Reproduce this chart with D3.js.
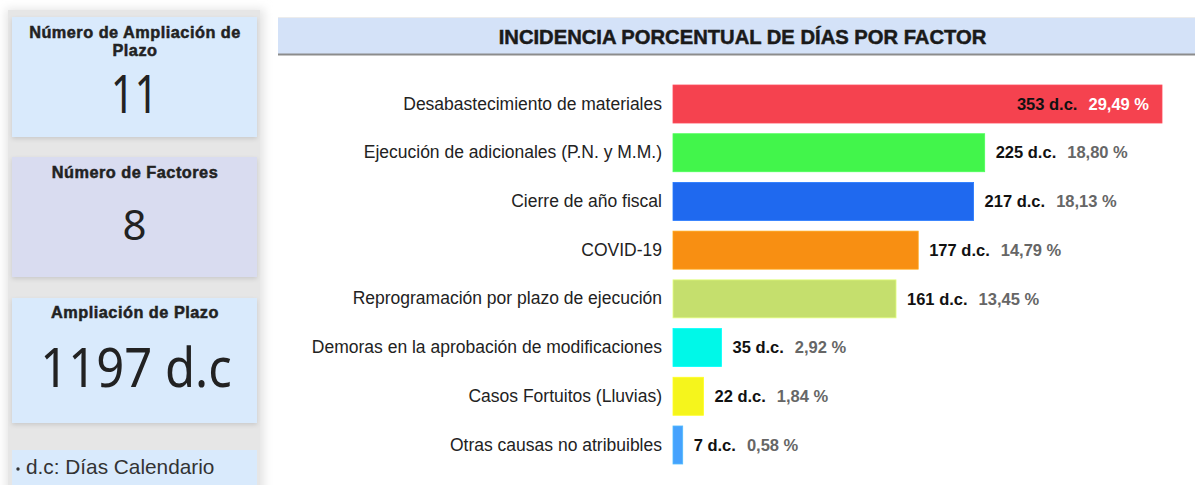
<!DOCTYPE html>
<html>
<head>
<meta charset="utf-8">
<script src="https://cdn.jsdelivr.net/npm/d3@7"></script>
<style>
  html, body { margin: 0; padding: 0; background: #ffffff; }
  svg { display: block; }
</style>
</head>
<body>
<svg id="chart" width="1195" height="485"></svg>
<script>
// Factors causing the time extensions, in calendar days (d.c.)
const categories = [
  "Desabastecimiento de materiales",
  "Ejecución de adicionales (P.N. y M.M.)",
  "Cierre de año fiscal",
  "COVID-19",
  "Reprogramación por plazo de ejecución",
  "Demoras en la aprobación de modificaciones",
  "Casos Fortuitos (Lluvias)",
  "Otras causas no atribuibles"
];
const days = [353, 225, 217, 177, 161, 35, 22, 7];
const percentLabels = ["29,49 %", "18,80 %", "18,13 %", "14,79 %", "13,45 %", "2,92 %", "1,84 %", "0,58 %"];
const barColors = ["#f5424f", "#42f54b", "#1f69ef", "#f88f12", "#c5df6d", "#00f8e8", "#f5f51c", "#45a2fd"];

// Summary cards on the left
const cardTitles = ["Número de Ampliación de Plazo", "Número de Factores", "Ampliación de Plazo"];
const cardValues = ["11", "8", "1197 d.c"];
const noteText = "d.c: Días Calendario";
const chartTitle = "INCIDENCIA PORCENTUAL DE DÍAS POR FACTOR";

const svg = d3.select("#chart");
const defs = svg.append("defs");
defs.append("filter").attr("id", "soft").attr("x", "-20%").attr("y", "-20%").attr("width", "140%").attr("height", "140%")
  .append("feGaussianBlur").attr("stdDeviation", 5);
const sh = defs.append("filter").attr("id", "cardShadow").attr("x", "-10%").attr("y", "-10%").attr("width", "120%").attr("height", "130%");
sh.append("feDropShadow").attr("dx", 0).attr("dy", 2).attr("stdDeviation", 2).attr("flood-color", "#000").attr("flood-opacity", 0.12);

const titleFont = "'Liberation Sans', Arial, sans-serif";
const valueFont = "'Noto Sans', 'Open Sans', sans-serif";

// ---- left column ----
const left = svg.append("g");
left.append("rect").attr("x", 6).attr("y", 9).attr("width", 258).attr("height", 490)
  .attr("fill", "#e4e4e4").attr("filter", "url(#soft)");
left.append("rect").attr("x", 8).attr("y", 10).attr("width", 252).attr("height", 480).attr("fill", "#e6e6e6");

const cards = [
  { y: 17, h: 120, fill: "#d9eafc" },
  { y: 157, h: 120, fill: "#d9dcf0" },
  { y: 298, h: 125, fill: "#d9eafc" }
];
const cardX = 12, cardW = 245, cardCx = cardX + cardW / 2 + 0.5;
cards.forEach(c => {
  left.append("rect").attr("x", cardX).attr("y", c.y).attr("width", cardW).attr("height", c.h)
    .attr("fill", c.fill).attr("filter", "url(#cardShadow)");
});

function cardTitle(txt, yPos) {
  left.append("text").attr("x", cardCx).attr("y", yPos).attr("text-anchor", "middle")
    .attr("font-family", titleFont).attr("font-weight", "bold").attr("font-size", 16.3)
    .attr("letter-spacing", 0.5)
    .attr("fill", "#222").attr("stroke", "#222").attr("stroke-width", 0.5)
    .text(txt);
}
// card 1 title wraps onto two lines
cardTitle("Número de Ampliación de", 37.5);
cardTitle("Plazo", 56);
cardTitle(cardTitles[1], 178);
cardTitle(cardTitles[2], 318);

function bigValue(txt, cx, base, size, sx) {
  left.append("text").attr("transform", `translate(${cx},${base}) scale(${sx},1)`)
    .attr("text-anchor", "middle")
    .attr("font-family", valueFont).attr("font-size", size).attr("fill", "#222").text(txt);
}
bigValue(cardValues[0], 134.5, 113, 52, 0.8);
bigValue(cardValues[1], 134.5, 240, 42, 1);
bigValue(cardValues[2], 136, 387, 55, 0.89);

// note card
left.append("rect").attr("x", cardX).attr("y", 450).attr("width", cardW).attr("height", 40).attr("fill", "#d9eafc");
left.append("circle").attr("cx", 18).attr("cy", 469).attr("r", 1.7).attr("fill", "#333");
left.append("text").attr("x", 26).attr("y", 474)
  .attr("font-family", titleFont).attr("font-size", 20.8).attr("fill", "#333").text(noteText);

// ---- title bar ----
svg.append("rect").attr("x", 278).attr("y", 17).attr("width", 917).attr("height", 1).attr("fill", "#ececec");
svg.append("rect").attr("x", 278).attr("y", 18).attr("width", 917).attr("height", 36).attr("fill", "#d4e2f8");
svg.append("rect").attr("x", 278).attr("y", 53.5).attr("width", 917).attr("height", 2).attr("fill", "#8c8c8c");
svg.append("text").attr("x", 742.5).attr("y", 43.5).attr("text-anchor", "middle")
  .attr("font-family", titleFont).attr("font-weight", "bold").attr("font-size", 20.2)
  .attr("fill", "#1a1a1a").attr("stroke", "#1a1a1a").attr("stroke-width", 0.5)
  .text(chartTitle);

// ---- bars ----
const y = d3.scaleBand().domain(categories).range([74.3, 474.7]).padding(0.22);
const x = d3.scaleLinear().domain([0, d3.max(days)]).range([673, 1162]);

const rows = categories.map((c, i) => ({ cat: c, v: days[i], pct: percentLabels[i], color: barColors[i] }));

const plot = svg.append("g");
plot.selectAll("rect.bar").data(rows).join("rect").attr("class", "bar")
  .attr("x", x(0)).attr("y", d => y(d.cat))
  .attr("width", d => x(d.v) - x(0)).attr("height", y.bandwidth())
  .attr("fill", d => d.color)
  .attr("stroke", d => d3.color(d.color).brighter(0.4)).attr("stroke-width", 0.8);

// category axis on the left of the bars
const axis = d3.axisLeft(y).tickSize(0).tickPadding(11);
const ax = plot.append("g").attr("transform", `translate(${x(0)},0)`).call(axis);
ax.select(".domain").remove();
ax.selectAll("text").attr("font-family", titleFont).attr("font-size", 17.5).attr("fill", "#222");

// value labels: days in bold black, percentage in grey (white inside the longest bar)
const maxV = d3.max(days);
rows.forEach(d => {
  const inside = d.v === maxV;
  const t = plot.append("text")
    .attr("y", y(d.cat) + y.bandwidth() / 2).attr("dy", "0.35em")
    .attr("font-family", titleFont).attr("font-weight", "bold").attr("font-size", 16.5);
  t.append("tspan").attr("fill", "#111").text(`${d.v} d.c.`);
  t.append("tspan").attr("dx", 11).attr("fill", inside ? "#ffffff" : "#666666").text(d.pct);
  if (inside) {
    t.attr("x", x(d.v) - 13).attr("text-anchor", "end");
  } else {
    t.attr("x", x(d.v) + 11);
  }
});
</script>
</body>
</html>
